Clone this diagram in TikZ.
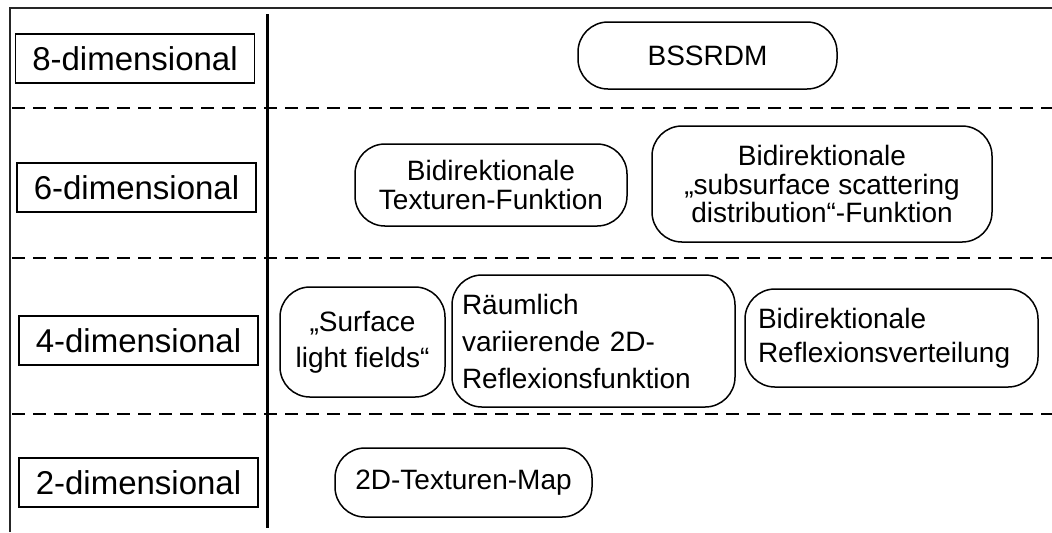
\documentclass[tikz,border=0pt]{standalone}
\usepackage{fontspec}
\setmainfont{Liberation Sans}
\usepackage{tikz}

\begin{document}
\begin{tikzpicture}[x=0.5pt,y=-0.5pt,
    dimbox/.style={draw,line width=0.75pt,minimum width=119.5pt,minimum height=24.5pt,
        inner sep=0pt,font=\fontsize{16.5}{19}\selectfont},
    funcbox/.style={draw,line width=0.75pt,rounded corners=15pt,inner sep=0pt,align=center,
        font=\fontsize{14}{17}\selectfont},
    levelline/.style={line width=1pt,dash pattern=on 6.5pt off 4pt}]
    \useasboundingbox (0,0) rectangle (1052,532);
    % frame
    \draw[line width=1pt,black!85] (10,532) -- (10,8) -- (1052,8);
    \draw[line width=1.5pt] (267,14) -- (267,528);
    \draw[levelline] (12,108) -- (1052,108);
    \draw[levelline] (12,258) -- (1052,258);
    \draw[levelline] (12,414) -- (1052,414);
    % dimension labels
    \node[dimbox] (dim8) at (135,58.5) {8-dimensional};
    \node[dimbox] (dim6) at (136.5,187.5) {6-dimensional};
    \node[dimbox] (dim4) at (138.5,340.5) {4-dimensional};
    \node[dimbox] (dim2) at (138.5,482.5) {2-dimensional};
    % functions
    \node[funcbox,minimum width=129.5pt,minimum height=33.5pt] (bssrdm) at (707.5,55.5) {BSSRDM};
    \node[funcbox,minimum width=136pt,minimum height=41pt,font=\fontsize{14}{14.5}\selectfont]
        (btf) at (491,185) {Bidirektionale\\Texturen-Funktion};
    \node[funcbox,minimum width=170pt,minimum height=58pt,font=\fontsize{14}{14.2}\selectfont]
        (bssdf) at (822,184) {Bidirektionale\\„subsurface scattering\\distribution“-Funktion};
    \node[funcbox,minimum width=82.5pt,minimum height=55pt,font=\fontsize{14}{18}\selectfont]
        (slf) at (362.5,342) {„Surface\\light fields“};
    \node[funcbox,align=left,inner xsep=5pt,text width=131.5pt,minimum height=66pt,
        font=\fontsize{14}{18.5}\selectfont]
        (svbrdf) at (593.5,341) {Räumlich\\variierende 2D-\\Reflexionsfunktion};
    \node[funcbox,align=left,inner xsep=6.5pt,text width=133.5pt,minimum height=49pt]
        (brdf) at (891.5,338) {Bidirektionale\\Reflexionsverteilung};
    \node[funcbox,minimum width=128.5pt,minimum height=34.5pt] (tex2d) at (463.5,482.5) {2D-Texturen-Map};
\end{tikzpicture}
\end{document}
